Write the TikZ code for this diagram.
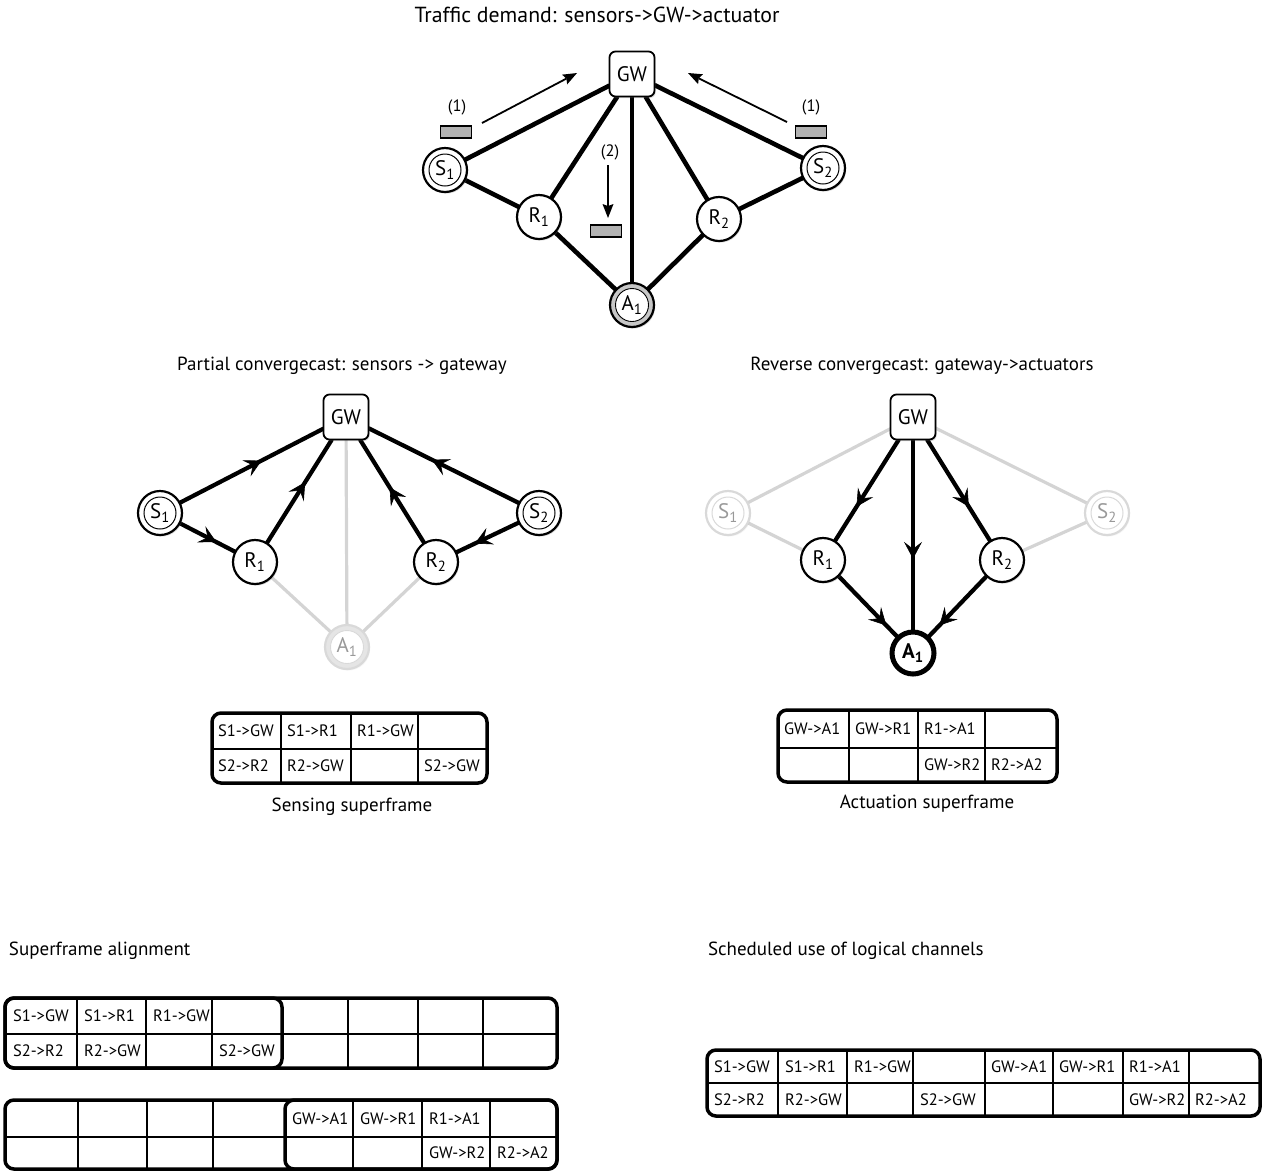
\documentclass[tikz,border=0pt]{standalone}
\usepackage{fontspec}
\setmainfont{PT Sans}
\usetikzlibrary{arrows.meta,decorations.markings,shadows,backgrounds}
\newcommand\ndfont{\fontsize{21}{23}\selectfont}
\newcommand\tblfont{\fontsize{16.5}{18}\selectfont}
\newcommand\ttlfont{\fontsize{19}{21}\selectfont}
\newcommand\topttlfont{\fontsize{21.8}{23}\selectfont}
\begin{document}
\begin{tikzpicture}[x=1pt,y=-1pt,
  every node/.style={inner sep=0pt, outer sep=0pt},
  shd/.style={drop shadow={opacity=0.3, shadow xshift=1.2pt, shadow yshift=-1.6pt}},
  lshd/.style={drop shadow={opacity=0.08, shadow xshift=1.2pt, shadow yshift=-1.6pt}},
  cnode/.style={circle, draw=black, line width=2.2pt, fill=white, minimum size=44pt, font=\ndfont, shd},
  sensor/.style={cnode, path picture={\draw[line width=1pt] (path picture bounding box.center) circle (16pt);}},
  relay/.style={cnode},
  actu/.style={cnode, fill=black!22, path picture={\filldraw[fill=white, draw=black, line width=0.9pt] (path picture bounding box.center) circle (16.5pt);}},
  gsensor/.style={circle, draw=black!15, line width=2.2pt, fill=white, minimum size=44pt, font=\ndfont, text=black!40, lshd,
     path picture={\draw[black!15, line width=1pt] (path picture bounding box.center) circle (16pt);}},
  gactu/.style={circle, draw=black!15, line width=2.2pt, fill=black!10, minimum size=44pt, font=\ndfont, text=black!40, lshd,
     path picture={\filldraw[fill=white, draw=black!15, line width=0.9pt] (path picture bounding box.center) circle (16.5pt);}},
  bactu/.style={circle, draw=black, line width=5pt, fill=white, minimum size=42pt, font=\ndfont\bfseries, shd},
  gwbox/.style={rectangle, rounded corners=6pt, draw, line width=1.8pt, fill=white, minimum width=45pt, minimum height=45pt, font=\ndfont, shd},
  lnk/.style={line width=4.6pt},
  mlnk/.style={line width=4.2pt},
  glnk/.style={line width=3.2pt, draw=black!17},
  midarrow/.style={postaction={decorate}, decoration={markings, mark=at position #1 with {\arrow[line width=0.6pt]{Stealth[length=17pt,width=18pt,inset=7pt]}}}},
  midarrow/.default=0.55,
  msg/.style={rectangle, draw, line width=1.6pt, fill=black!30, minimum width=31pt, minimum height=12pt},
  flow/.style={line width=1.8pt, -{Stealth[length=14pt,width=11pt,inset=2pt,line width=0pt]}},
  lbl/.style={font=\tblfont},
  cell/.style={font=\tblfont, anchor=west},
  ttl/.style={font=\ttlfont},
  tblfill/.style={fill=white, rounded corners=9pt, shd},
  tblframe/.style={draw, line width=3.5pt, rounded corners=9pt},
  tgrid/.style={line width=1.1pt}
]
\useasboundingbox (0,0) rectangle (1263,1171);

% ---------------- top graph ----------------
\node[font=\topttlfont] (t1) at (597,15) {Traffic demand: sensors->GW->actuator};
\node[gwbox] (gw1) at (632,74) {GW};
\node[sensor] (s1a) at (445,170) {S\textsubscript{1}};
\node[relay] (r1a) at (539,217) {R\textsubscript{1}};
\node[actu] (a1a) at (632,305) {A\textsubscript{1}};
\node[relay] (r2a) at (719,219) {R\textsubscript{2}};
\node[sensor] (s2a) at (823,168) {S\textsubscript{2}};
\begin{scope}[on background layer]
\draw[lnk] (s1a) -- (gw1);
\draw[lnk] (s1a) -- (r1a);
\draw[lnk] (r1a) -- (gw1);
\draw[lnk] (r1a) -- (a1a);
\draw[lnk] (gw1) -- (a1a);
\draw[lnk] (gw1) -- (r2a);
\draw[lnk] (r2a) -- (a1a);
\draw[lnk] (s2a) -- (r2a);
\draw[lnk] (s2a) -- (gw1);
\end{scope}
\node[msg] (m1) at (456,132) {};
\node[msg] (m2) at (811,132) {};
\node[msg] (m3) at (606,231) {};
\node[lbl] (l1) at (457,107) {(1)};
\node[lbl] (l2) at (811,107) {(1)};
\node[lbl] (l3) at (610,152) {(2)};
\coordinate (f1s) at (482,123); \coordinate (f1e) at (577,73);
\coordinate (f2s) at (787,122); \coordinate (f2e) at (688,73);
\coordinate (f3s) at (608,165); \coordinate (f3e) at (608,218);
\draw[flow] (f1s) -- (f1e);
\draw[flow] (f2s) -- (f2e);
\draw[flow] (f3s) -- (f3e);

% ---------------- middle left ----------------
\node[ttl] (t2) at (342,366) {Partial convergecast: sensors -> gateway};
\node[gwbox] (gw2) at (346,417) {GW};
\node[sensor] (s1b) at (160,513) {S\textsubscript{1}};
\node[relay] (r1b) at (255,562) {R\textsubscript{1}};
\node[gactu] (a1b) at (347,647) {A\textsubscript{1}};
\node[relay] (r2b) at (436,562) {R\textsubscript{2}};
\node[sensor] (s2b) at (539,513) {S\textsubscript{2}};
\begin{scope}[on background layer]
\draw[glnk] (r1b) -- (a1b);
\draw[glnk] (gw2) -- (a1b);
\draw[glnk] (r2b) -- (a1b);
\draw[mlnk, midarrow=0.57] (s1b) -- (gw2);
\draw[mlnk, midarrow=0.66] (s1b) -- (r1b);
\draw[mlnk, midarrow=0.59] (r1b) -- (gw2);
\draw[mlnk, midarrow=0.54] (r2b) -- (gw2);
\draw[mlnk, midarrow=0.58] (s2b) -- (gw2);
\draw[mlnk, midarrow=0.7] (s2b) -- (r2b);
\end{scope}

% ---------------- middle right ----------------
\node[ttl] (t3) at (922,366) {Reverse convergecast: gateway->actuators};
\node[gwbox] (gw3) at (913,417) {GW};
\node[gsensor] (s1c) at (728,513) {S\textsubscript{1}};
\node[relay] (r1c) at (823,560) {R\textsubscript{1}};
\node[bactu] (a1c) at (913,653) {A\textsubscript{1}};
\node[relay] (r2c) at (1002,560) {R\textsubscript{2}};
\node[gsensor] (s2c) at (1107,513) {S\textsubscript{2}};
\begin{scope}[on background layer]
\draw[glnk] (s1c) -- (gw3);
\draw[glnk] (s1c) -- (r1c);
\draw[glnk] (s2c) -- (gw3);
\draw[glnk] (s2c) -- (r2c);
\draw[mlnk, midarrow=0.66] (gw3) -- (r1c);
\draw[mlnk, midarrow=0.62] (gw3) -- (a1c);
\draw[mlnk, midarrow=0.66] (gw3) -- (r2c);
\draw[mlnk, midarrow=0.8] (r1c) -- (a1c);
\draw[mlnk, midarrow=0.8] (r2c) -- (a1c);
\end{scope}

% ---------------- sensing superframe ----------------
\path[tblfill] (212,713) rectangle (487,783);
\foreach \x in {281,351,418} \draw[tgrid] (\x,713) -- (\x,783);
\draw[tgrid] (212,749) -- (487,749);
\draw[tblframe] (212,713) rectangle (487,783);
\node[cell] (sa1) at (218,731) {S1->GW};
\node[cell] (sa2) at (287,731) {S1->R1};
\node[cell] (sa3) at (357,731) {R1->GW};
\node[cell] (sa4) at (218,766) {S2->R2};
\node[cell] (sa5) at (287,766) {R2->GW};
\node[cell] (sa6) at (424,766) {S2->GW};
\node[ttl] (t4) at (352,807) {Sensing superframe};

% ---------------- actuation superframe ----------------
\path[tblfill] (778,710) rectangle (1057,782);
\foreach \x in {849,918,985} \draw[tgrid] (\x,710) -- (\x,782);
\draw[tgrid] (778,748) -- (1057,748);
\draw[tblframe] (778,710) rectangle (1057,782);
\node[cell] (ac1) at (784,729) {GW->A1};
\node[cell] (ac2) at (855,729) {GW->R1};
\node[cell] (ac3) at (924,729) {R1->A1};
\node[cell] (ac4) at (924,765) {GW->R2};
\node[cell] (ac5) at (991,765) {R2->A2};
\node[ttl] (t5) at (927,804) {Actuation superframe};

% ---------------- superframe alignment ----------------
\node[ttl, anchor=west] (t6) at (9,951) {Superframe alignment};
\path[tblfill] (5,998) rectangle (557,1068);
\foreach \x in {77,146,212,348,418,483} \draw[tgrid] (\x,998) -- (\x,1068);
\draw[tgrid] (5,1034) -- (557,1034);
\draw[tblframe] (5,998) rectangle (557,1068);
\draw[tblframe] (5,998) rectangle (282,1068);
\node[cell] (al1) at (13,1016) {S1->GW};
\node[cell] (al2) at (84,1016) {S1->R1};
\node[cell] (al3) at (153,1016) {R1->GW};
\node[cell] (al4) at (13,1051) {S2->R2};
\node[cell] (al5) at (84,1051) {R2->GW};
\node[cell] (al6) at (219,1051) {S2->GW};

\path[tblfill] (5,1100) rectangle (557,1169);
\foreach \x in {78,147,213,353,422,490} \draw[tgrid] (\x,1100) -- (\x,1169);
\draw[tgrid] (5,1137) -- (557,1137);
\draw[tblframe] (5,1100) rectangle (557,1169);
\draw[tblframe] (285,1100) rectangle (557,1169);
\node[cell] (bl1) at (292,1118.5) {GW->A1};
\node[cell] (bl2) at (360,1118.5) {GW->R1};
\node[cell] (bl3) at (429,1118.5) {R1->A1};
\node[cell] (bl4) at (429,1153) {GW->R2};
\node[cell] (bl5) at (497,1153) {R2->A2};

% ---------------- scheduled logical channels ----------------
\node[ttl, anchor=west] (t7) at (708,951) {Scheduled use of logical channels};
\path[tblfill] (707,1050) rectangle (1260,1116);
\foreach \x in {778,847,913,985,1053,1123,1189} \draw[tgrid] (\x,1050) -- (\x,1116);
\draw[tgrid] (707,1083) -- (1260,1083);
\draw[tblframe] (707,1050) rectangle (1260,1116);
\node[cell] (rc1) at (714,1066.5) {S1->GW};
\node[cell] (rc2) at (785,1066.5) {S1->R1};
\node[cell] (rc3) at (854,1066.5) {R1->GW};
\node[cell] (rc4) at (991,1066.5) {GW->A1};
\node[cell] (rc5) at (1059,1066.5) {GW->R1};
\node[cell] (rc6) at (1129,1066.5) {R1->A1};
\node[cell] (rc7) at (714,1099.5) {S2->R2};
\node[cell] (rc8) at (785,1099.5) {R2->GW};
\node[cell] (rc9) at (920,1099.5) {S2->GW};
\node[cell] (rc10) at (1129,1099.5) {GW->R2};
\node[cell] (rc11) at (1195,1099.5) {R2->A2};
\end{tikzpicture}
\end{document}
